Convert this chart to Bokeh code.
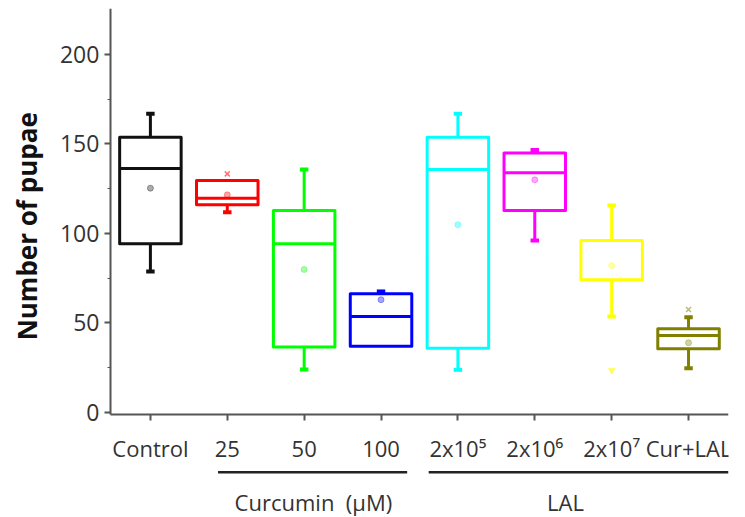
import math
from bokeh.plotting import figure
from bokeh.models import ColumnDataSource, Range1d, FixedTicker
from bokeh.embed import file_html
from bokeh.resources import INLINE
from bokeh.core.properties import value

# ---- data ----
categories = ["Control", "25", "50", "100", "2x10\u2075", "2x10\u2076", "2x10\u2077", "Cur+LAL"]
q1 = [94.2, 116.0, 36.5, 37.0, 35.9, 112.8, 74.1, 35.6]
medians = [136.3, 119.7, 94.2, 53.6, 135.8, 133.9, 96.1, 43.0]
q3 = [153.8, 129.6, 112.8, 66.3, 153.8, 144.9, 96.1, 46.8]
whisker_low = [78.8, 111.9, 24.0, 37.0, 23.8, 96.1, 53.6, 24.7]
whisker_high = [166.9, 129.6, 135.8, 67.6, 166.9, 146.7, 115.6, 53.2]
means = [125.3, 121.6, 79.9, 63.0, 104.9, 130.0, 82.1, 38.9]
xmark_groups = [1, 7]
xmark_values = [133.3, 57.5]
outlier_groups = [6]
outlier_values = [23.5]
colors = ["#111111", "#ff0000", "#00ff00", "#0000ff", "#00ffff", "#ff00ff", "#ffff00", "#808000"]
group_names = ["Curcumin\u00a0 (\u03bcM)", "LAL"]
y_ticks = [0, 50, 100, 150, 200]
y_minor = [25, 75, 125, 175]
y_title = "Number of pupae"

# ---- layout constants ----
FONT = "Open Sans"
BOX_HALF = 0.40
CAP_HALF = 0.055
X_START, X_END = -1.95, 7.52
Y_START, Y_END = -58.7, 225.7
AXIS_X = -0.52
AXIS_Y = -1.1
GROUP_LINE_X0 = [0.88, 3.62]
GROUP_LINE_X1 = [3.34, 7.52]
GROUP_LINE_Y = -33.4
GROUP_TEXT_X = [2.12, 5.40]
GROUP_TEXT_Y = -50.3
YTITLE_X, YTITLE_Y = -1.60, 104

xs = list(range(len(categories)))
src = ColumnDataSource(dict(
    x=xs, left=[x - BOX_HALF for x in xs], right=[x + BOX_HALF for x in xs],
    q1=q1, q3=q3, med=medians, lo=whisker_low, hi=whisker_high, mean=means,
    color=colors,
))

p = figure(width=745, height=517, output_backend="svg", toolbar_location=None,
           x_range=Range1d(X_START, X_END), y_range=Range1d(Y_START, Y_END),
           min_border_left=0, min_border_right=17, min_border_top=8, min_border_bottom=0)
p.grid.visible = False
p.outline_line_color = None
p.background_fill_color = "white"
p.border_fill_color = "white"

# whiskers
up = [i for i in xs if whisker_high[i] > q3[i] + 0.5]
dn = [i for i in xs if whisker_low[i] < q1[i] - 0.5]
p.segment(x0=[xs[i] for i in up], y0=[q3[i] for i in up], x1=[xs[i] for i in up], y1=[whisker_high[i] for i in up],
          line_color=[colors[i] for i in up], line_width=3)
p.segment(x0=[xs[i] for i in dn], y0=[q1[i] for i in dn], x1=[xs[i] for i in dn], y1=[whisker_low[i] for i in dn],
          line_color=[colors[i] for i in dn], line_width=3)
# caps
p.segment(x0=[xs[i] - CAP_HALF for i in up], y0=[whisker_high[i] for i in up],
          x1=[xs[i] + CAP_HALF for i in up], y1=[whisker_high[i] for i in up],
          line_color=[colors[i] for i in up], line_width=4)
p.segment(x0=[xs[i] - CAP_HALF for i in dn], y0=[whisker_low[i] for i in dn],
          x1=[xs[i] + CAP_HALF for i in dn], y1=[whisker_low[i] for i in dn],
          line_color=[colors[i] for i in dn], line_width=4)

# boxes
p.quad(left="left", right="right", bottom="q1", top="q3", source=src,
       fill_color=None, line_color="color", line_width=3, line_join="round")
p.segment(x0="left", y0="med", x1="right", y1="med", source=src, line_color="color", line_width=3)

# means
p.scatter(x="x", y="mean", source=src, size=6, marker="circle",
          fill_color="color", line_color="color", fill_alpha=0.35, line_alpha=0.35)
# extra marks
p.scatter(x=xmark_groups, y=xmark_values, marker="x", size=7,
          line_color=[colors[i] for i in xmark_groups], line_alpha=0.55, line_width=1.5)
p.scatter(x=outlier_groups, y=outlier_values, marker="inverted_triangle", size=6,
          fill_color=[colors[i] for i in outlier_groups], line_color=[colors[i] for i in outlier_groups],
          fill_alpha=0.6, line_alpha=0.6)

# group lines and labels under the axis
p.segment(x0=GROUP_LINE_X0, y0=[GROUP_LINE_Y] * 2, x1=GROUP_LINE_X1, y1=[GROUP_LINE_Y] * 2,
          line_color="#222222", line_width=2.5)
p.text(x=GROUP_TEXT_X, y=[GROUP_TEXT_Y] * 2, text=group_names, text_font=value(FONT),
       text_font_size="22px", text_align="center", text_baseline="middle", text_color="#333333")

# y title
p.text(x=[YTITLE_X], y=[YTITLE_Y], text=[y_title], angle=math.pi / 2,
       text_font=value(FONT), text_font_style="bold", text_font_size="26px",
       text_color="#111111", text_align="center", text_baseline="middle")

# axes
ax = p.xaxis[0]
ax.fixed_location = AXIS_Y
ax.bounds = (AXIS_X, X_END)
ax.ticker = FixedTicker(ticks=xs)
ax.major_label_overrides = {i: c for i, c in zip(xs, categories)}
ax.major_tick_out = 6
ax.major_tick_in = 0
ax.minor_tick_out = 0
ax.minor_tick_in = 0
ax.axis_line_width = 2
ax.axis_line_color = "#555555"
ax.major_tick_line_color = "#555555"
ax.major_tick_line_width = 2
ax.major_label_text_font = FONT
ax.major_label_text_font_size = "22px"
ax.major_label_text_color = "#333333"
ax.major_label_standoff = 13

ay = p.yaxis[0]
ay.fixed_location = AXIS_X
ay.bounds = (AXIS_Y, Y_END)
ay.ticker = FixedTicker(ticks=y_ticks, minor_ticks=y_minor)
ay.major_tick_out = 6
ay.major_tick_in = 0
ay.minor_tick_out = 3
ay.minor_tick_in = 0
ay.axis_line_width = 2
ay.axis_line_color = "#555555"
ay.major_tick_line_color = "#555555"
ay.minor_tick_line_color = "#555555"
ay.major_tick_line_width = 2
ay.major_label_text_font = FONT
ay.major_label_text_font_size = "23px"
ay.major_label_text_color = "#333333"
ay.major_label_standoff = 5

open("out.html", "w").write(file_html(p, INLINE))
